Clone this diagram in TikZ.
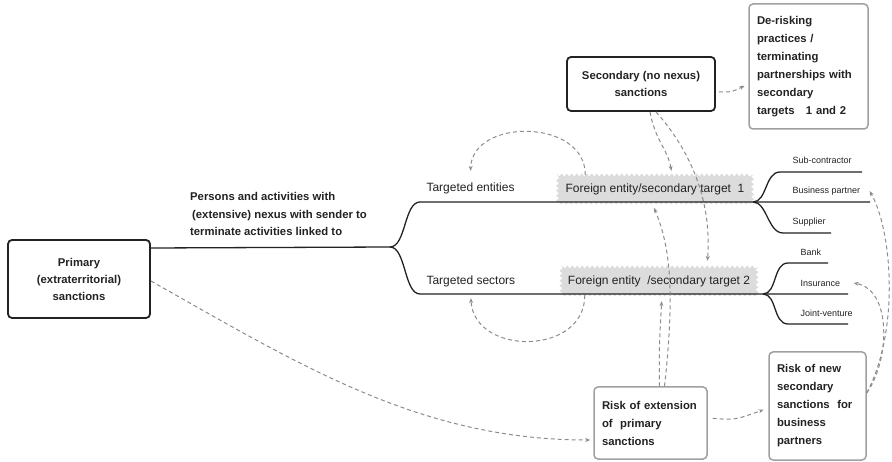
\documentclass[tikz,border=0pt]{standalone}
\usepackage{fontspec}
\setmainfont{Liberation Sans}
\usetikzlibrary{arrows.meta,decorations.pathmorphing}

\definecolor{ink}{HTML}{222222}
\definecolor{dashgray}{HTML}{8C8C8C}
\definecolor{boxgray}{HTML}{A0A0A0}
\definecolor{marker}{HTML}{DCDCDC}

\tikzset{
  sanctionbox/.style={draw=ink, line width=1.8pt, rounded corners=4pt, text=ink,
    font=\fontsize{11.3}{17}\selectfont\bfseries, align=center},
  riskbox/.style={draw=boxgray, line width=1.5pt, rounded corners=4pt, text=ink,
    font=\fontsize{11.3}{18}\selectfont\bfseries, align=left, inner xsep=8pt},
  branch/.style={ink, line width=1.3pt},
  effect/.style={dashgray, line width=1pt, dash pattern=on 4pt off 3pt,
    -{Stealth[length=5pt,width=4pt]}},
  target/.style={text=ink, font=\fontsize{12}{14}\selectfont, anchor=west},
  partner/.style={text=ink, font=\fontsize{9}{11}\selectfont, anchor=west},
  foreign/.style={fill=marker, decorate,
    decoration={zigzag, segment length=5pt, amplitude=1.5pt},
    text=ink, font=\fontsize{12}{14}\selectfont}
}

\begin{document}
\begin{tikzpicture}[x=1pt,y=-1pt]
\useasboundingbox (0,0) rectangle (892,462);

% Sanction boxes
\node[sanctionbox, minimum width=142pt, minimum height=78pt] (primary) at (79,279)
  {Primary\\ (extraterritorial)\\ sanctions};
\node[sanctionbox, minimum width=148pt, minimum height=54pt] (secondary) at (641,84)
  {Secondary (no nexus)\\ sanctions};

% Consequences
\node[riskbox, text width=103pt, minimum height=125pt] (derisk) at (808.5,66.5)
  {De-risking\\ practices /\\ terminating\\ partnerships with\\ secondary\\ targets~~ 1 and 2};
\node[riskbox, text width=97pt, minimum height=72pt] (riskext) at (650.5,423)
  {Risk of extension\\ of~ primary\\ sanctions};
\node[riskbox, text width=81pt, minimum height=108pt] (risknew) at (817.5,406)
  {Risk of new\\ secondary\\ sanctions~ for\\ business\\ partners};

% Labels of the tree
\node[anchor=north west, inner sep=0pt, align=left, text=ink,
  font=\fontsize{11.3}{17.5}\selectfont\bfseries] (nexus) at (190,192.5)
  {Persons and activities with\\ \hspace{2pt}(extensive) nexus with sender to\\ terminate activities linked to};
\node[target] (entities) at (423,188) {Targeted entities};
\node[target] (sectors) at (423,281) {Targeted sectors};
\node[foreign, minimum width=195pt, minimum height=28pt] (f1) at (655,189)
  {Foreign entity/secondary target~ 1};
\node[foreign, minimum width=196pt, minimum height=28pt] (f2) at (659,281)
  {Foreign entity~ /secondary target 2};

\node[partner] (subc) at (789,160) {Sub-contractor};
\node[partner] (business) at (789,191) {Business partner};
\node[partner] (supplier) at (789,222) {Supplier};
\node[partner] (bank) at (797,252) {Bank};
\node[partner] (insurance) at (797,283) {Insurance};
\node[partner] (joint) at (797,313) {Joint-venture};

% Tree
\coordinate (root) at (151,248);
\coordinate (fork) at (390,247);
\coordinate (fork1) at (753,202);
\coordinate (fork2) at (763,294);
\coordinate (subend) at (862,172);
\coordinate (busend) at (870,202);
\coordinate (supend) at (831,233);
\coordinate (bankend) at (828,263);
\coordinate (insend) at (848,294);
\coordinate (jointend) at (848,324);

\draw[branch] (root) -- (fork);
\draw[branch] (fork) .. controls (406,247) and (404,202) .. (420,202) -- (fork1) -- (busend);
\draw[branch] (fork) .. controls (406,247) and (404,294) .. (420,294) -- (fork2) -- (insend);
\draw[branch] (fork1) .. controls (767,202) and (765,172) .. (780,172) -- (subend);
\draw[branch] (fork1) .. controls (767,202) and (768,233) .. (783,233) -- (supend);
\draw[branch] (fork2) .. controls (777,294) and (773,263) .. (788,263) -- (bankend);
\draw[branch] (fork2) .. controls (777,294) and (773,324) .. (788,324) -- (jointend);

% Dashed effects
\draw[effect, shorten >=3pt] ([yshift=-2pt]primary.east) .. controls (300,365) and (420,440) .. ([yshift=-17pt]riskext.west);
\draw[effect, shorten <=3pt, shorten >=4pt] ([yshift=-8pt]secondary.east) .. controls (732,92) .. ([yshift=-17.5pt]derisk.west);
\draw[effect] ([xshift=28pt]f1.north west) .. controls (585,118) and (472,118) .. ([yshift=8pt]entities.north);
\draw[effect] ([xshift=24pt]f2.south west) .. controls (585,356) and (474,356) .. ([yshift=-8pt]sectors.south);
\draw[effect, shorten >=4pt] ([xshift=9pt]secondary.south) .. controls (655,140) and (668,150) .. ([xshift=17pt]f1.north);
\draw[effect, shorten >=6pt] ([xshift=15pt]secondary.south) .. controls (690,150) and (712,200) .. ([xshift=48pt]f2.north);
\draw[effect, shorten >=6pt] ([xshift=9pt]riskext.north) .. controls (659,350) .. ([xshift=3pt]f2.south);
\draw[effect, shorten >=5pt] ([xshift=14pt]riskext.north) .. controls (674,300) and (672,250) .. ([xshift=-3pt]f1.south);
\draw[effect, shorten <=5pt, shorten >=5pt] ([yshift=5pt]riskext.east) .. controls (735,420) .. ([yshift=-2pt]risknew.west);
\draw[effect] ([yshift=13pt]risknew.east) .. controls (890,360) and (892,290) .. ([xshift=10pt]insurance.east);
\draw[effect] ([yshift=13pt]risknew.east) .. controls (900,330) and (892,230) .. ([xshift=6pt]business.east);
\end{tikzpicture}
\end{document}
